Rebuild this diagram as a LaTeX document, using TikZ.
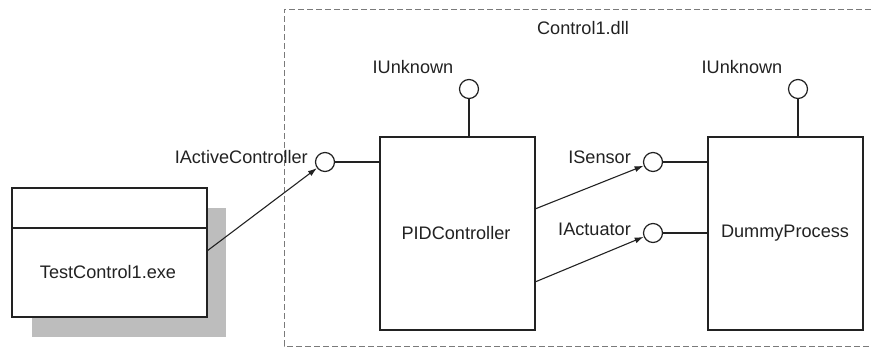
\documentclass[tikz,border=0pt]{standalone}
\usepackage{fontspec}
\setmainfont{Liberation Sans}
\usetikzlibrary{arrows.meta}
\definecolor{ln}{HTML}{222222}
\definecolor{shd}{HTML}{BDBDBD}
\definecolor{dsh}{HTML}{7A7A7A}
\begin{document}
\begin{tikzpicture}[x=1bp,y=-1bp,
  txt/.style={font=\fontsize{18.2}{21}\selectfont, text=ln, inner sep=0pt},
  comp/.style={draw=ln, line width=1.3bp, fill=white, rectangle, inner sep=0pt},
  lolli/.style={draw=ln, line width=1.2bp, circle, minimum size=19bp, inner sep=0pt, fill=white},
  conn/.style={draw=ln, line width=1.2bp},
  dep/.style={draw=ln, line width=1.1bp, -{Latex[length=9bp,width=6bp]}}
]
\useasboundingbox (0,0) rectangle (871,349);
% dll boundary
\draw[dsh, line width=1bp, dash pattern=on 6bp off 3bp] (871,9) -- (284,9) -- (284,346) -- (871,346);
\node[txt] (dll) at (583,28) {Control1.dll};
% exe
\fill[shd] (32,208) rectangle (226,337);
\node[comp, minimum width=195bp, minimum height=129bp] (exe) at (109.5,252.5) {};
\draw[conn] (12,228) -- (207,228);
\node[txt] (exel) at (108,272) {TestControl1.exe};
% PID
\node[comp, minimum width=155bp, minimum height=193bp] (pid) at (457.5,233.5) {};
\node[txt] (pidl) at (456,233) {PIDController};
% Dummy
\node[comp, minimum width=155bp, minimum height=193bp] (dum) at (785.5,233.5) {};
\node[txt] (duml) at (785,233) {DummyProcess};
% lollipops
\node[lolli] (iu1) at (469,89) {};
\node[txt] (iu1l) at (413,67) {IUnknown};
\draw[conn] (iu1) -- (iu1 |- pid.north);
\node[lolli] (iu2) at (798,89) {};
\node[txt] (iu2l) at (742,67) {IUnknown};
\draw[conn] (iu2) -- (iu2 |- dum.north);
\node[lolli] (iac) at (325,162) {};
\node[txt, anchor=east] (iacl) at (308,157) {IActiveController};
\draw[conn] (iac) -- (iac -| pid.west);
\node[lolli] (isen) at (653,162) {};
\node[txt, anchor=east] (isenl) at (631,157) {ISensor};
\draw[conn] (isen) -- (isen -| dum.west);
\node[lolli] (iact) at (653,233) {};
\node[txt, anchor=east] (iactl) at (631,229) {IActuator};
\draw[conn] (iact) -- (iact -| dum.west);
% dependencies
\coordinate (e1) at (207,251);
\coordinate (p1) at (535,209);
\coordinate (p2) at (535,282);
\draw[dep] (e1) -- (iac);
\draw[dep] (p1) -- (isen);
\draw[dep] (p2) -- (iact);
\end{tikzpicture}
\end{document}
